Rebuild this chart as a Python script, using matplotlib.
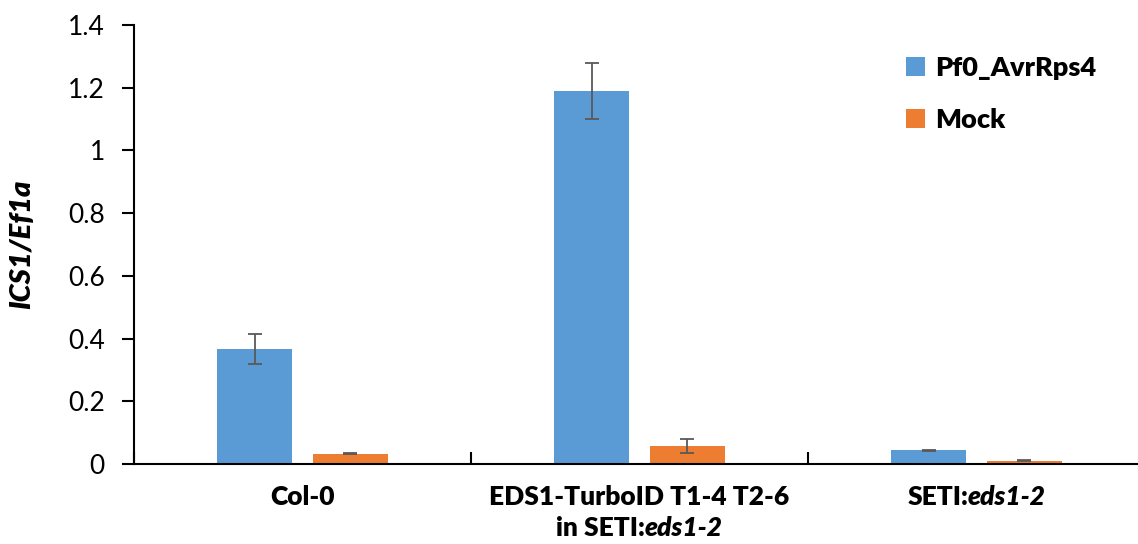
import matplotlib
matplotlib.use("Agg")
import matplotlib.pyplot as plt
import numpy as np
from matplotlib.offsetbox import TextArea, HPacker, AnnotationBbox
from matplotlib.patches import Patch
import matplotlib.transforms as mtransforms

# ---- data ----
categories = [
    [[("Col-0", "normal")]],
    [[("EDS1-TurboID T1-4 T2-6", "normal")], [("in SETI:", "normal"), ("eds1-2", "italic")]],
    [[("SETI:", "normal"), ("eds1-2", "italic")]],
]
series_names = ["Pf0_AvrRps4", "Mock"]
pf0_values = [0.366, 1.190, 0.044]
pf0_errors = [0.048, 0.090, 0.002]
mock_values = [0.033, 0.057, 0.010]
mock_errors = [0.002, 0.022, 0.002]
y_ticks = [0, 0.2, 0.4, 0.6, 0.8, 1, 1.2, 1.4]
y_tick_labels = ["0", "0.2", "0.4", "0.6", "0.8", "1", "1.2", "1.4"]
y_label = "ICS1/Ef1a"

FONT = "Lato"
plt.rcParams["font.family"] = [FONT, "DejaVu Sans"]

W, H = 1138, 544
fig = plt.figure(figsize=(W / 100, H / 100), dpi=100)
ax_left, ax_right, ax_bottom, ax_top = 134, 1145, 464, 25
ax = fig.add_axes([ax_left / W, (H - ax_bottom) / H, (ax_right - ax_left) / W, (ax_bottom - ax_top) / H])

colors = ["#5B9BD5", "#ED7D31"]
x = np.arange(len(categories))
bw = 0.223
off = 0.142
err_kw = dict(ecolor="#595959", elinewidth=1.3, capsize=5, capthick=1.3)
ax.bar(x - off, pf0_values, bw, yerr=pf0_errors, color=colors[0], error_kw=err_kw, label=series_names[0], zorder=2)
ax.bar(x + off, mock_values, bw, yerr=mock_errors, color=colors[1], error_kw=err_kw, label=series_names[1], zorder=2)

ax.set_xlim(-0.5, len(categories) - 0.5)
ax.set_ylim(0, 1.4)
ax.set_yticks(y_ticks)
ax.set_yticklabels(y_tick_labels, fontsize=19)
ax.tick_params(axis="y", direction="out", length=9, width=1.5, pad=12)
ax.set_xticks(np.arange(len(categories) + 1) - 0.5)
ax.set_xticklabels([])
ax.tick_params(axis="x", direction="in", length=9, width=1.5)
for s in ["top", "right"]:
    ax.spines[s].set_visible(False)
for s in ["left", "bottom"]:
    ax.spines[s].set_linewidth(1.5)
    ax.spines[s].set_color("black")

ax.set_ylabel(y_label, fontsize=21, fontweight="heavy", style="italic")
ax.yaxis.set_label_coords(-(ax_left - 35) / (ax_right - ax_left), 0.5)

# category labels with mixed styles
trans = mtransforms.blended_transform_factory(ax.transData, ax.transAxes)
for i, lines in enumerate(categories):
    for j, segs in enumerate(lines):
        parts = [TextArea(t, textprops=dict(fontsize=19, fontweight="heavy", style=st, family=FONT))
                 for t, st in segs]
        box = HPacker(children=parts, align="baseline", pad=0, sep=0)
        ab = AnnotationBbox(box, (i, 0), xycoords=trans, xybox=(0, -15 - j * 22.5),
                            boxcoords="offset points", box_alignment=(0.5, 1), frameon=False,
                            annotation_clip=False)
        ax.add_artist(ab)

handles = [Patch(facecolor=c, edgecolor="none") for c in colors]
fig.legend(handles, series_names, loc="upper left", bbox_to_anchor=(884 / W, 1 - 34 / H),
           frameon=False, prop=dict(size=19.5, weight="heavy"), handlelength=0.72, handleheight=0.72,
           handletextpad=0.35, labelspacing=1.05, borderpad=0.3)

fig.savefig("out.png", dpi=100)
